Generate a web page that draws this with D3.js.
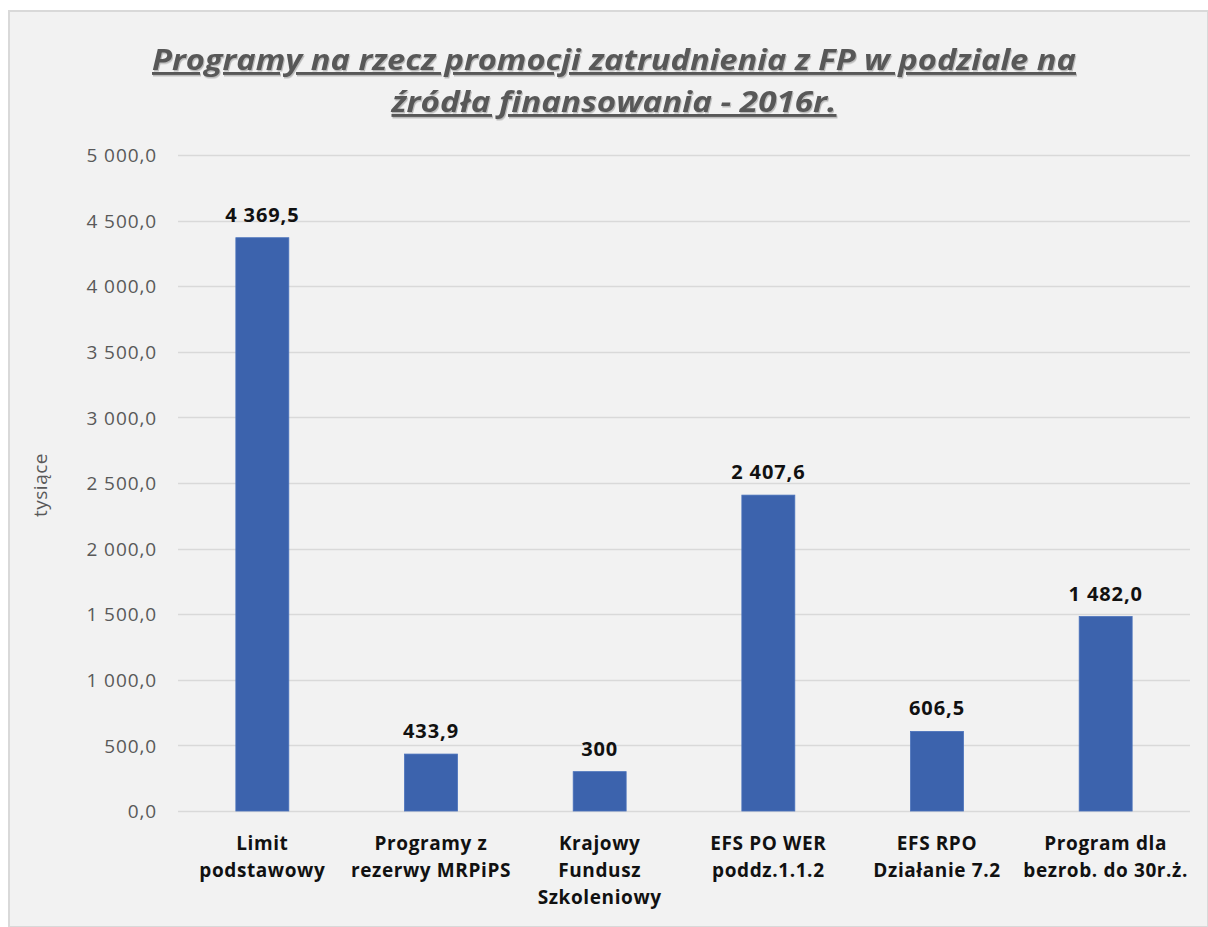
<!DOCTYPE html>
<html>
<head>
<meta charset="utf-8">
<script src="https://cdn.jsdelivr.net/npm/d3@7"></script>
<style>
  html, body { margin: 0; padding: 0; background: #ffffff; }
  svg { display: block; }
</style>
</head>
<body>
<svg id="chart" width="1208" height="927"></svg>
<script>
// Funding sources and amounts (thousands)
const categories = [
  ["Limit", "podstawowy"],
  ["Programy z", "rezerwy MRPiPS"],
  ["Krajowy", "Fundusz", "Szkoleniowy"],
  ["EFS PO WER", "poddz.1.1.2"],
  ["EFS RPO", "Działanie 7.2"],
  ["Program dla", "bezrob. do 30r.ż."]
];
const values = [4369.5, 433.9, 300, 2407.6, 606.5, 1482.0];
const valueLabels = ["4 369,5", "433,9", "300", "2 407,6", "606,5", "1 482,0"];
const yTicks = [0, 500, 1000, 1500, 2000, 2500, 3000, 3500, 4000, 4500, 5000];
const titleLines = ["Programy na rzecz promocji zatrudnienia z FP w podziale na", "źródła finansowania  - 2016r."];
const yAxisTitle = "tysiące";

const svg = d3.select("#chart");
const W = 1208, H = 927;
const FONT = "'Open Sans', 'Noto Sans', sans-serif";

// Soft shadow used by the title
const defs = svg.append("defs");
const shadow = defs.append("filter").attr("id", "titleShadow")
  .attr("x", "-5%").attr("y", "-20%").attr("width", "110%").attr("height", "150%");
shadow.append("feDropShadow").attr("dx", 1).attr("dy", 1.5).attr("stdDeviation", 0.6)
  .attr("flood-color", "#8c8c8c").attr("flood-opacity", 0.55);

// Chart frame
svg.append("rect").attr("x", 9).attr("y", 11).attr("width", W - 9).attr("height", H - 11)
  .attr("fill", "#f2f2f2").attr("stroke", "#d9d9d9").attr("stroke-width", 2);

const plot = { left: 178, right: 1190, top: 155, bottom: 811 };

const x = d3.scaleBand()
  .domain(d3.range(categories.length))
  .range([plot.left, plot.right])
  .paddingInner(0.686)
  .paddingOuter(0.343);

const y = d3.scaleLinear().domain([0, 5000]).range([plot.bottom, plot.top]);

const fmt = v => d3.format(",.1f")(v).replace(/,/g, " ").replace(".", ",");

// Gridlines
svg.append("g").selectAll("line").data(yTicks).join("line")
  .attr("x1", plot.left).attr("x2", plot.right)
  .attr("y1", d => Math.round(y(d)) + 0.5).attr("y2", d => Math.round(y(d)) + 0.5)
  .attr("stroke", "#d9d9d9").attr("stroke-width", 1.3);

// Y axis tick labels
const yAxis = d3.axisLeft(y).tickValues(yTicks).tickFormat(fmt).tickSize(0).tickPadding(0);
const gy = svg.append("g").attr("transform", `translate(157,0)`).call(yAxis);
gy.select(".domain").remove();
gy.selectAll("text")
  .attr("fill", "#595959")
  .style("font-family", FONT)
  .style("font-size", "19px")
  .style("letter-spacing", "0.9px")
  .attr("dy", "0.35em");

// Y axis title
svg.append("text")
  .attr("transform", `translate(47,485) rotate(-90)`)
  .attr("text-anchor", "middle")
  .attr("fill", "#595959")
  .style("font-family", FONT)
  .style("font-size", "19px")
  .style("letter-spacing", "0.5px")
  .text(yAxisTitle);

// Bars
svg.append("g").selectAll("rect").data(values).join("rect")
  .attr("x", (d, i) => x(i))
  .attr("width", x.bandwidth())
  .attr("y", d => y(d))
  .attr("height", d => y(0) - y(d))
  .attr("fill", "#3c63ad")
  .attr("stroke", "#4a72bb")
  .attr("stroke-width", 0.8);

// Value labels
svg.append("g").selectAll("text").data(values).join("text")
  .attr("x", (d, i) => x(i) + x.bandwidth() / 2)
  .attr("y", d => y(d) - 16)
  .attr("text-anchor", "middle")
  .attr("fill", "#111111")
  .style("font-family", FONT)
  .style("font-weight", "bold")
  .style("font-size", "20px")
  .style("letter-spacing", "0.9px")
  .text((d, i) => valueLabels[i]);

// Category labels
const cat = svg.append("g").selectAll("text").data(categories).join("text")
  .attr("x", (d, i) => x(i) + x.bandwidth() / 2)
  .attr("y", 850)
  .attr("text-anchor", "middle")
  .attr("fill", "#111111")
  .style("font-family", FONT)
  .style("font-weight", "bold")
  .style("font-size", "19px")
  .style("letter-spacing", "0.6px");
cat.selectAll("tspan").data(d => d).join("tspan")
  .attr("x", function() { return d3.select(this.parentNode).attr("x"); })
  .attr("dy", (d, j) => j === 0 ? 0 : 27)
  .text(d => d);

// Title
const titleY = [70, 112];
const titleWidth = [924, 445];
const title = svg.append("g").attr("filter", "url(#titleShadow)");
titleLines.forEach((t, i) => {
  title.append("text")
    .attr("x", 614)
    .attr("y", titleY[i])
    .attr("text-anchor", "middle")
    .attr("textLength", titleWidth[i])
    .attr("lengthAdjust", "spacingAndGlyphs")
    .attr("fill", "#595959")
    .style("font-family", FONT)
    .style("font-weight", "bold")
    .style("font-style", "italic")
    .style("font-size", "29px")
    .style("text-decoration", "underline")
    .text(t);
});
</script>
</body>
</html>
